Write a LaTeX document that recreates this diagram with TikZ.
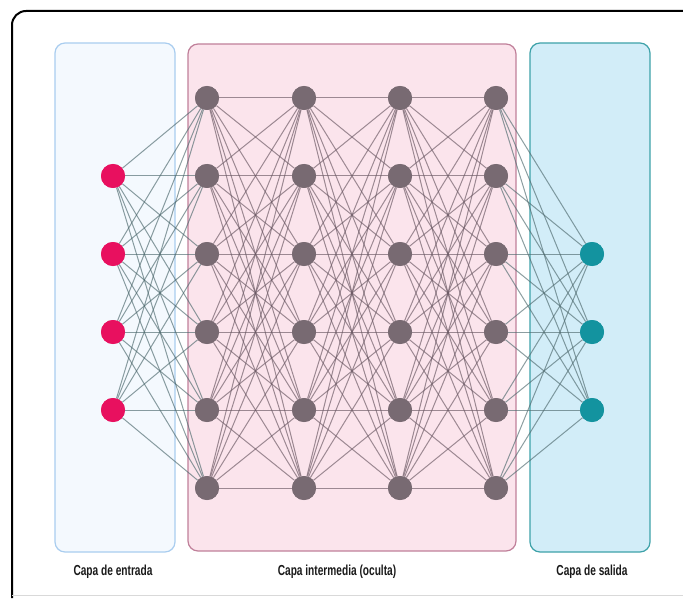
\documentclass[tikz,border=0pt]{standalone}
\usepackage{fontspec}
\newfontfamily\labelfont[FakeStretch=0.7]{Liberation Sans}
\definecolor{inFill}{HTML}{F4F9FE}
\definecolor{inBorder}{HTML}{A9CDEF}
\definecolor{hidFill}{HTML}{FBE4EC}
\definecolor{hidBorder}{HTML}{C0809A}
\definecolor{outFill}{HTML}{D2EDF8}
\definecolor{outBorder}{HTML}{3EA2A9}
\definecolor{inNode}{HTML}{E8105F}
\definecolor{hidNode}{HTML}{786A72}
\definecolor{outNode}{HTML}{13939F}
\definecolor{linkCol}{HTML}{4E6A6E}
\definecolor{hidLinkCol}{HTML}{6A5863}
\definecolor{labelCol}{HTML}{1A1A1A}
\begin{document}
\begin{tikzpicture}[x=1pt,y=-1pt,
  layerbox/.style={line width=1.2pt, rounded corners=10pt},
  neuron/.style={circle, minimum size=24pt, inner sep=0pt},
  innode/.style={neuron, fill=inNode},
  hidnode/.style={neuron, fill=hidNode},
  outnode/.style={neuron, fill=outNode},
  link/.style={draw=linkCol, draw opacity=0.65, line width=1pt},
  hidlink/.style={draw=hidLinkCol, draw opacity=0.65, line width=1pt},
  layerlabel/.style={font=\labelfont\bfseries\fontsize{14.5}{16}\selectfont, text=labelCol}]
\useasboundingbox (0,0) rectangle (683,599);
\begin{scope}
\clip (0,0) rectangle (683,599);
\draw[line width=2pt, black, rounded corners=14pt] (12,598) -- (12,11) -- (700,11);
\draw[line width=1pt, black!15] (12,595) -- (683,595);
\end{scope}
% layer boxes
\draw[layerbox, fill=inFill, draw=inBorder] (55,43) rectangle (175,552);
\draw[layerbox, fill=hidFill, draw=hidBorder] (188,44) rectangle (516,551);
\draw[layerbox, fill=outFill, draw=outBorder] (530,43) rectangle (650,552);
% input nodes
\foreach \i/\y in {1/176,2/254,3/332,4/410}
  \node[innode] (i\i) at (113,\y) {};
% hidden nodes
\foreach \c/\x in {1/207,2/304,3/400,4/496}
  \foreach \r/\y in {1/98,2/176,3/254,4/332,5/410,6/488}
    \node[hidnode] (h\c\r) at (\x,\y) {};
% output nodes
\foreach \o/\y in {1/254,2/332,3/410}
  \node[outnode] (o\o) at (592,\y) {};
% connectors
\foreach \i in {1,...,4}
  \foreach \r in {1,...,6}
    \draw[link] (i\i) -- (h1\r);
\foreach \c/\n in {1/2,2/3,3/4}
  \foreach \r in {1,...,6}
    \foreach \s in {1,...,6}
      \draw[hidlink] (h\c\r) -- (h\n\s);
\foreach \r in {1,...,6}
  \foreach \o in {1,...,3}
    \draw[link] (h4\r) -- (o\o);
% redraw nodes on top
\foreach \i/\y in {1/176,2/254,3/332,4/410}
  \fill[inNode] (113,\y) circle (12pt);
\foreach \c/\x in {1/207,2/304,3/400,4/496}
  \foreach \r/\y in {1/98,2/176,3/254,4/332,5/410,6/488}
    \fill[hidNode] (\x,\y) circle (12pt);
\foreach \o/\y in {1/254,2/332,3/410}
  \fill[outNode] (592,\y) circle (12pt);
% labels
\node[layerlabel] (lin) at (113,572) {Capa de entrada};
\node[layerlabel] (lhid) at (337,572) {Capa intermedia (oculta)};
\node[layerlabel] (lout) at (592,572) {Capa de salida};
\end{tikzpicture}
\end{document}
